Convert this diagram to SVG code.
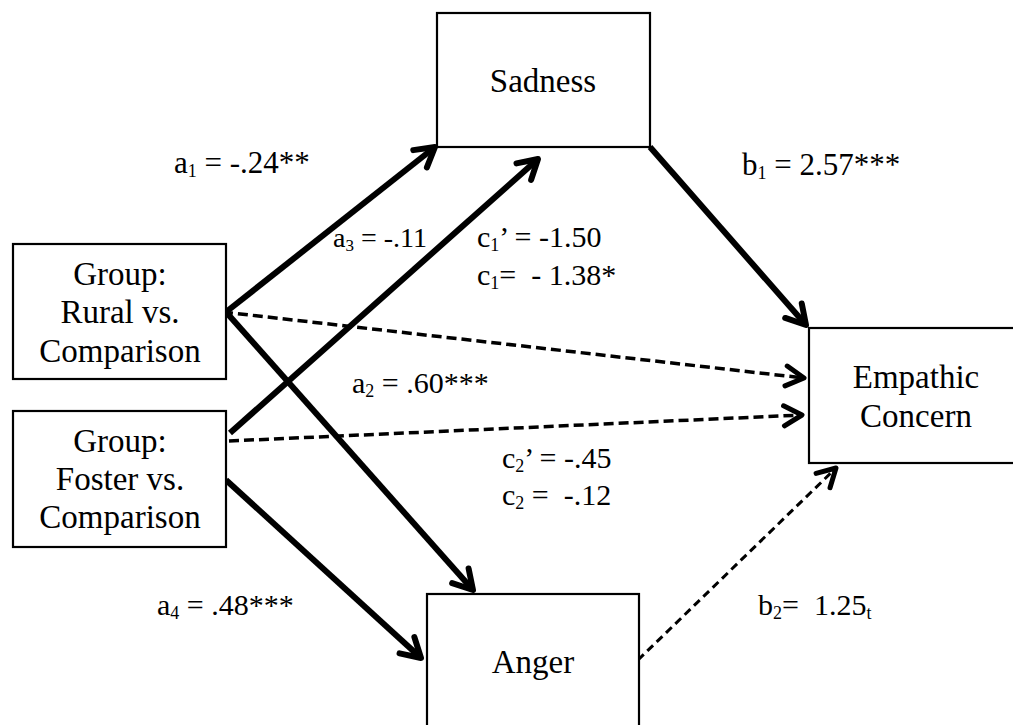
<svg xmlns="http://www.w3.org/2000/svg" width="1013" height="725" viewBox="0 0 1013 725">
<style>
.box{fill:#fff;stroke:#000;stroke-width:2.2}
.nt{font-family:"Liberation Serif","Times New Roman",serif;font-size:33px;fill:#000;text-anchor:middle}
.lb{font-family:"Liberation Serif","Times New Roman",serif;font-size:30px;fill:#000}
.solid{stroke:#000;stroke-width:6;fill:none;marker-end:url(#ah)}
.dash{stroke:#000;stroke-width:3.5;stroke-dasharray:10 5;fill:none;marker-end:url(#ahd)}
</style>
<defs>
<marker id="ah" markerUnits="userSpaceOnUse" markerWidth="40" markerHeight="40" viewBox="-30 -20 40 40" refX="0" refY="0" orient="auto" overflow="visible">
<path d="M-19,-11 L0,0 L-19,11" fill="none" stroke="#000" stroke-width="6" stroke-linecap="round" stroke-linejoin="round"/>
</marker>
<marker id="ahd" markerUnits="userSpaceOnUse" markerWidth="40" markerHeight="40" viewBox="-30 -20 40 40" refX="0" refY="0" orient="auto" overflow="visible">
<path d="M-18,-10 L0,0 L-18,10" fill="none" stroke="#000" stroke-width="5" stroke-linecap="round" stroke-linejoin="round"/>
</marker>
</defs>
<rect width="1013" height="725" fill="#fff"/>
<g id="connectors">
<path id="a1" class="solid" d="M226,312 L435,147"/>
<path id="a2" class="solid" d="M226,312 L473,590"/>
<path id="a3" class="solid" d="M230,433 L538,159"/>
<path id="a4" class="solid" d="M226,480 L421,658"/>
<path id="b1" class="solid" d="M650,147 L806,325"/>
<path id="c1" class="dash" d="M223,312 L804,378"/>
<path id="c2" class="dash" d="M229,441 L802,415"/>
<path id="b2" class="dash" style="stroke-width:3;stroke-dasharray:8 5" d="M638,660 L836,468"/>
</g>
<g id="sadness">
<rect class="box" x="437" y="13" width="213" height="134"/>
<text class="nt" x="543" y="92">Sadness</text>
</g>
<g id="group-rural">
<rect class="box" x="13" y="244" width="213" height="135"/>
<text class="nt" x="120" y="285">Group:</text>
<text class="nt" x="120" y="323">Rural vs.</text>
<text class="nt" x="120" y="362">Comparison</text>
</g>
<g id="group-foster">
<rect class="box" x="13" y="411" width="213" height="136"/>
<text class="nt" x="120" y="452">Group:</text>
<text class="nt" x="120" y="490">Foster vs.</text>
<text class="nt" x="120" y="528">Comparison</text>
</g>
<g id="empathic-concern">
<rect class="box" x="809" y="328" width="220" height="135"/>
<text class="nt" x="916" y="388">Empathic</text>
<text class="nt" x="916" y="427">Concern</text>
</g>
<g id="anger">
<rect class="box" x="427" y="594" width="212" height="150"/>
<text class="nt" x="533" y="673">Anger</text>
</g>
<g id="labels">
<text class="lb" x="174" y="173" style="font-size:31px" xml:space="preserve">a<tspan font-size="18" dy="4">1</tspan><tspan dy="-4"> = -.24**</tspan></text>
<text class="lb" x="333" y="247" style="font-size:28px" xml:space="preserve">a<tspan font-size="17" dy="4">3</tspan><tspan dy="-4"> = -.11</tspan></text>
<text class="lb" x="477" y="247" xml:space="preserve">c<tspan font-size="18" dy="4">1</tspan><tspan dy="-4">’ = -1.50</tspan></text>
<text class="lb" x="477" y="285" xml:space="preserve">c<tspan font-size="18" dy="4">1</tspan><tspan dy="-4">=  - 1.38*</tspan></text>
<text class="lb" x="352" y="393" xml:space="preserve">a<tspan font-size="18" dy="4">2</tspan><tspan dy="-4"> = .60***</tspan></text>
<text class="lb" x="502" y="468" xml:space="preserve">c<tspan font-size="18" dy="4">2</tspan><tspan dy="-4">’ = -.45</tspan></text>
<text class="lb" x="502" y="505" xml:space="preserve">c<tspan font-size="18" dy="4">2</tspan><tspan dy="-4"> =  -.12</tspan></text>
<text class="lb" x="157" y="615" xml:space="preserve">a<tspan font-size="18" dy="4">4</tspan><tspan dy="-4"> = .48***</tspan></text>
<text class="lb" x="742" y="175" style="font-size:31px" xml:space="preserve">b<tspan font-size="18" dy="4">1</tspan><tspan dy="-4"> = 2.57***</tspan></text>
<text class="lb" x="758" y="615" xml:space="preserve">b<tspan font-size="18" dy="4">2</tspan><tspan dy="-4">=  1.25</tspan><tspan font-size="18" dy="4">t</tspan></text>
</g>
</svg>
